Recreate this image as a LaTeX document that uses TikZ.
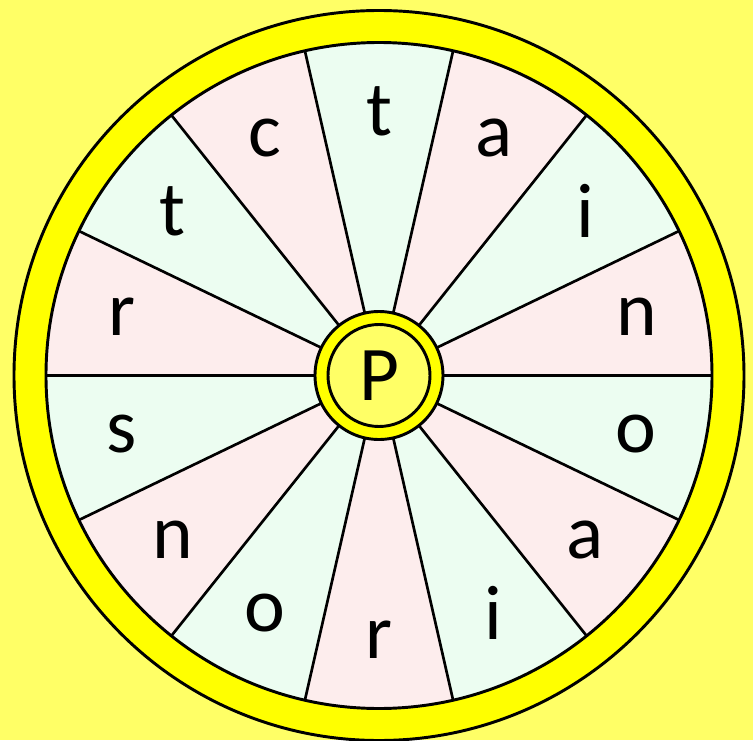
\documentclass[tikz,border=0pt]{standalone}
\usepackage{fontspec}
\setmainfont{Carlito}
\definecolor{bgyellow}{RGB}{255,255,102}
\definecolor{rimyellow}{RGB}{255,255,0}
\definecolor{pinkseg}{RGB}{253,237,237}
\definecolor{greenseg}{RGB}{236,253,241}

\begin{document}
\begin{tikzpicture}[x=0.75pt, y=0.75pt, every node/.style={font=\fontsize{58}{58}\selectfont, inner sep=0pt}]
    \def\rout{365}  % outer edge of the rim
    \def\rin{333}   % inner edge of the rim
    \def\rhub{64}   % hub ring
    \def\rcore{51}  % core with the letter
    \def\rtext{264} % radius of the letters

    % Background
    \useasboundingbox (-379,-364.5) rectangle (374,375.5);
    \fill[bgyellow] (-379,-364.5) rectangle (374,375.5);

    % Rim
    \filldraw[fill=rimyellow, line width=2.2pt] (0,0) circle (\rout);

    % Sectors
    \fill[greenseg] (0,0) -- (77.143:\rin) arc (77.143:102.857:\rin) -- cycle;
    \fill[pinkseg] (0,0) -- (51.429:\rin) arc (51.429:77.143:\rin) -- cycle;
    \fill[greenseg] (0,0) -- (25.714:\rin) arc (25.714:51.429:\rin) -- cycle;
    \fill[pinkseg] (0,0) -- (0:\rin) arc (0:25.714:\rin) -- cycle;
    \fill[greenseg] (0,0) -- (-25.714:\rin) arc (-25.714:0:\rin) -- cycle;
    \fill[pinkseg] (0,0) -- (-51.429:\rin) arc (-51.429:-25.714:\rin) -- cycle;
    \fill[greenseg] (0,0) -- (-77.143:\rin) arc (-77.143:-51.429:\rin) -- cycle;
    \fill[pinkseg] (0,0) -- (-102.857:\rin) arc (-102.857:-77.143:\rin) -- cycle;
    \fill[greenseg] (0,0) -- (-128.571:\rin) arc (-128.571:-102.857:\rin) -- cycle;
    \fill[pinkseg] (0,0) -- (-154.286:\rin) arc (-154.286:-128.571:\rin) -- cycle;
    \fill[greenseg] (0,0) -- (-180:\rin) arc (-180:-154.286:\rin) -- cycle;
    \fill[pinkseg] (0,0) -- (154.286:\rin) arc (154.286:180:\rin) -- cycle;
    \fill[greenseg] (0,0) -- (128.571:\rin) arc (128.571:154.286:\rin) -- cycle;
    \fill[pinkseg] (0,0) -- (102.857:\rin) arc (102.857:128.571:\rin) -- cycle;
    \draw[line width=2.2pt] (0,0) circle (\rin);

    % Spokes
    \draw[line width=2pt] (0:\rin) -- (180:\rin);
    \draw[line width=2pt] (25.714:\rin) -- (205.714:\rin);
    \draw[line width=2pt] (51.429:\rin) -- (231.429:\rin);
    \draw[line width=2pt] (77.143:\rin) -- (257.143:\rin);
    \draw[line width=2pt] (102.857:\rin) -- (282.857:\rin);
    \draw[line width=2pt] (128.571:\rin) -- (308.571:\rin);
    \draw[line width=2pt] (154.286:\rin) -- (334.286:\rin);

    % Hub
    \filldraw[fill=rimyellow, line width=2.2pt] (0,0) circle (\rhub);
    \filldraw[fill=bgyellow, line width=2.2pt] (0,0) circle (\rcore);
    \node (P) at (0,0) {P};

    % Letters
    \node (s1) at (90:\rtext) {t};
    \node (s2) at (64.286:\rtext) {a};
    \node (s3) at (38.571:\rtext) {i};
    \node (s4) at (12.857:\rtext) {n};
    \node (s5) at (-12.857:\rtext) {o};
    \node (s6) at (-38.571:\rtext) {a};
    \node (s7) at (-64.286:\rtext) {i};
    \node (s8) at (-90:\rtext) {r};
    \node (s9) at (-115.714:\rtext) {o};
    \node (s10) at (-141.429:\rtext) {n};
    \node (s11) at (-167.143:\rtext) {s};
    \node (s12) at (167.143:\rtext) {r};
    \node (s13) at (141.429:\rtext) {t};
    \node (s14) at (115.714:\rtext) {c};

\end{tikzpicture}
\end{document}
